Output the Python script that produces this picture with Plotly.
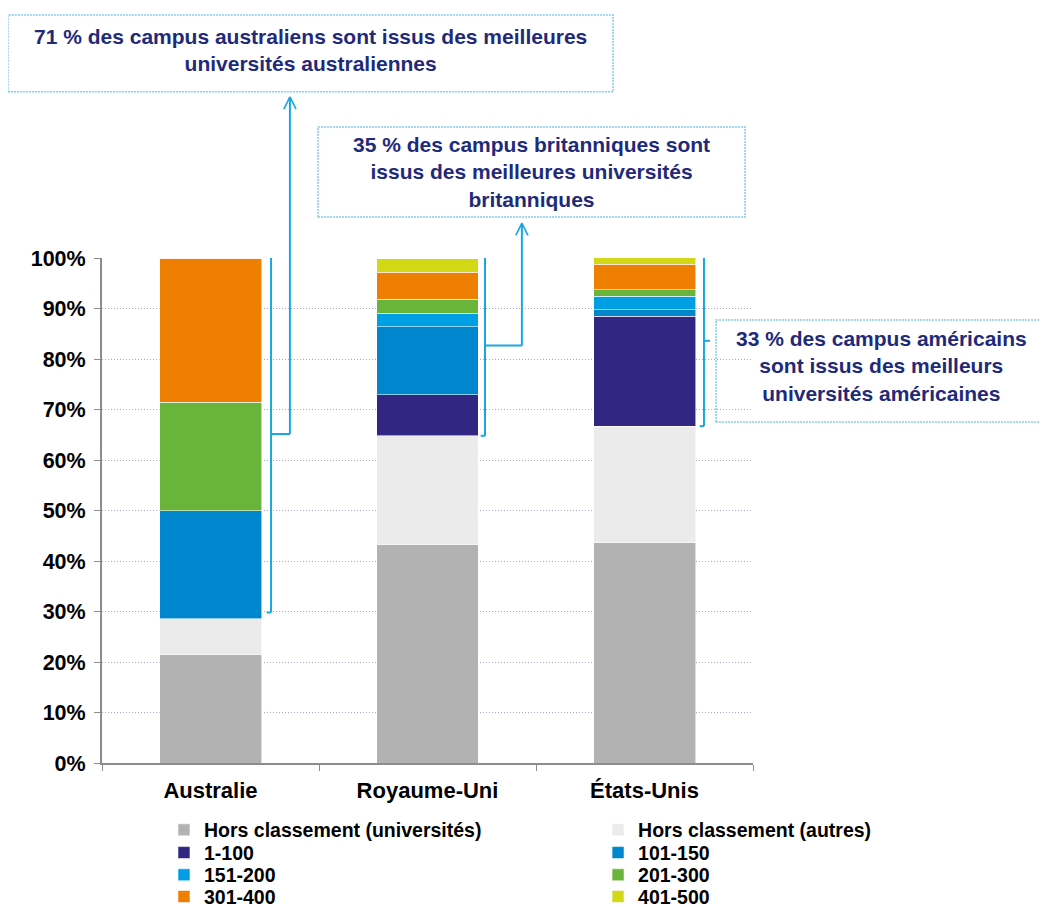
import plotly.graph_objects as go

# ---------------- data ----------------
countries = ["Australie", "Royaume-Uni", "États-Unis"]
series_names = [
    "Hors classement (universités)",
    "Hors classement (autres)",
    "1-100",
    "101-150",
    "151-200",
    "201-300",
    "301-400",
    "401-500",
]
hors_univ = [21.4, 43.2, 43.6]
hors_autres = [7.2, 21.6, 23.1]
r1_100 = [0.0, 8.1, 21.8]
r101_150 = [21.4, 13.5, 1.3]
r151_200 = [0.0, 2.7, 2.6]
r201_300 = [21.4, 2.7, 1.3]
r301_400 = [28.6, 5.4, 5.1]
r401_500 = [0.0, 2.7, 1.3]
series_values = [hors_univ, hors_autres, r1_100, r101_150, r151_200, r201_300, r301_400, r401_500]
colors = ["#B2B2B2", "#EBEBEB", "#312783", "#0086CD", "#009FE3", "#69B43A", "#EF7F00", "#D2D816"]
y_ticks = [0, 10, 20, 30, 40, 50, 60, 70, 80, 90, 100]
y_ticklabels = [f"{v}%" for v in y_ticks]

notes = [
    "71 % des campus australiens sont issus des meilleures<br>universités australiennes",
    "35 % des campus britanniques sont<br>issus des meilleures universités<br>britanniques",
    "33 % des campus américains<br>sont issus des meilleurs<br>universités américaines",
]

FONT = "Liberation Sans, Arial, sans-serif"
NAVY = "#1F2A7A"
BR = "#1AA7E1"
BOXC = "#86CBEA"

# legend grid: 2 columns x 4 rows (paper coords)
leg_cols = [0.0952, 0.762]
leg_rows = [-0.133, -0.178, -0.222, -0.265]

fig = go.Figure()
legend_layouts = {}
for k, (name, vals, col) in enumerate(zip(series_names, series_values, colors)):
    lid = "legend" if k == 0 else f"legend{k + 1}"
    fig.add_trace(go.Bar(
        x=countries, y=vals, name=name, legend=lid,
        marker=dict(color=col, line=dict(color="rgba(255,255,255,0.7)", width=0.8)),
        hoverinfo="skip",
    ))
    legend_layouts[lid] = dict(
        x=leg_cols[k % 2], xanchor="left", y=leg_rows[k // 2], yanchor="middle",
        orientation="v", bgcolor="rgba(0,0,0,0)", itemclick=False,
        font=dict(family=FONT, size=19.5, color="black", weight="bold"),
    )

bottom_top = [hors_univ[i] + hors_autres[i] for i in range(3)]

shapes = []

def line(x0, y0, x1, y1, xref="x", yref="y", color=BR, width=2):
    shapes.append(dict(type="line", x0=x0, y0=y0, x1=x1, y1=y1, xref=xref, yref=yref,
                       line=dict(color=color, width=width), layer="above"))

bx = [0.279, 1.265, 2.274]
hook = 0.02
lows = [bottom_top[0] + 1.2, bottom_top[1], bottom_top[2]]
hi = 100.5
for i in range(3):
    line(bx[i], lows[i], bx[i], hi)
    line(bx[i] - hook, hi, bx[i], hi)
    line(bx[i] - hook, lows[i], bx[i], lows[i])

mid = [(lows[i] + hi) / 2 for i in range(3)]
ax_x, ax_tip = 0.366, 1.319
line(bx[0], mid[0], ax_x, mid[0])
line(ax_x, mid[0] / 100, ax_x, ax_tip, yref="paper")
uk_x, uk_tip = 1.435, 1.069
line(bx[1], mid[1], uk_x, mid[1])
line(uk_x, mid[1] / 100, uk_x, uk_tip, yref="paper")
line(bx[2], mid[2], 2.302, mid[2])

for tx, ty in [(ax_x, ax_tip), (uk_x, uk_tip)]:
    line(tx, ty, tx - 0.028, ty - 0.024, yref="paper", width=1.6)
    line(tx, ty, tx + 0.028, ty - 0.024, yref="paper", width=1.6)

boxes = [(-0.1444, 1.329, 0.785, 1.481), (0.3318, 1.0812, 0.9877, 1.2594), (0.9432, 0.6752, 1.4516, 0.8772)]
text_dy = [0.006, 0.0, 0.010]
for (x0, y0, x1, y1) in boxes:
    shapes.append(dict(type="rect", xref="paper", yref="paper", x0=x0, y0=y0, x1=x1, y1=y1,
                       line=dict(color=BOXC, width=1.5, dash="2px,1px"), fillcolor="rgba(0,0,0,0)"))

annotations = []
for (x0, y0, x1, y1), txt, dy in zip(boxes, notes, text_dy):
    annotations.append(dict(
        x=(x0 + x1) / 2, y=(y0 + y1) / 2 + dy, xref="paper", yref="paper",
        text=txt, showarrow=False, align="center", xanchor="center", yanchor="middle",
        font=dict(family=FONT, size=21, color=NAVY, weight="bold"),
    ))

fig.update_layout(
    barmode="stack",
    bargap=0.53,
    width=1048, height=907,
    margin=dict(l=94, r=303, t=250, b=152, autoexpand=False),
    plot_bgcolor="white", paper_bgcolor="white",
    font=dict(family=FONT, color="black"),
    showlegend=True,
    xaxis=dict(
        showline=True, linecolor="#8C8C8C", linewidth=2,
        ticks="outside", tickson="boundaries", ticklen=6, tickcolor="#8C8C8C",
        tickfont=dict(family=FONT, size=22, color="black", weight="bold"),
        ticklabelstandoff=7,
        showgrid=False,
    ),
    yaxis=dict(
        range=[0, 100], tickvals=y_ticks, ticktext=y_ticklabels,
        showline=True, linecolor="#8C8C8C", linewidth=2,
        ticks="outside", ticklen=6, tickcolor="#8C8C8C",
        tickfont=dict(family=FONT, size=21.5, color="black", weight="bold"),
        ticklabelstandoff=4,
        showgrid=True, gridcolor="#A6A6D6", griddash="1px,2px", gridwidth=1,
        zeroline=False,
    ),
    shapes=shapes,
    annotations=annotations,
    **legend_layouts,
)

fig.write_html("out.html")
